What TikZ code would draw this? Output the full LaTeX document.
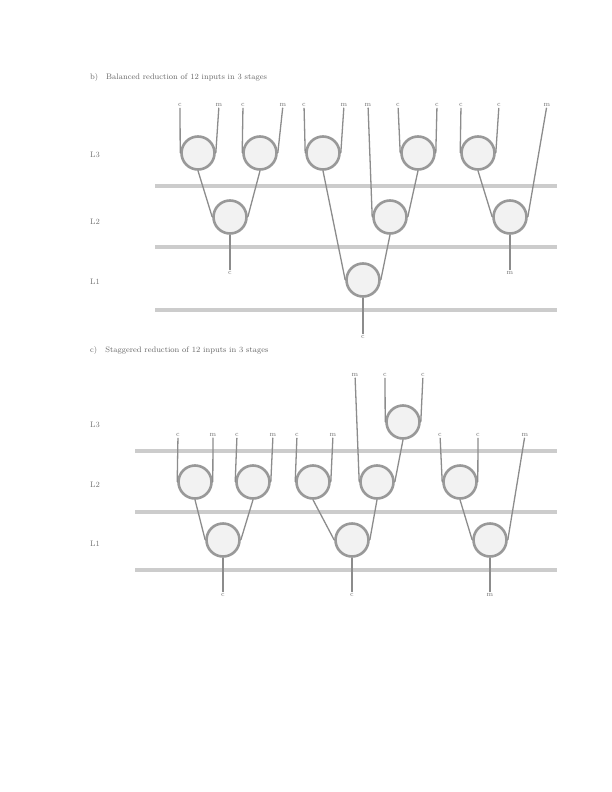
\documentclass[tikz,border=0pt]{standalone}
\usepackage{tikz}
\usetikzlibrary{shapes,positioning}
\tikzset{ell/.style={circle,draw=black!40,line width=2.6pt,fill=black!5,minimum size=33pt,inner sep=0pt}}
\tikzset{lab/.style={inner sep=1pt,text=black!55,font=\scriptsize}}
\tikzset{head/.style={inner sep=1pt,text=black!60,font=\footnotesize,anchor=west}}
\tikzset{wire/.style={draw=black!45,line width=1.3pt}}
\tikzset{lvl/.style={draw=black!20,line width=4pt}}

\begin{document}
\begin{tikzpicture}[x=1pt,y=-1pt]
    \useasboundingbox[fill=white] (0,0) rectangle (612,792);

    \node[head] (hb) at (89,77) {b)\quad Balanced reduction of 12 inputs in 3 stages};
    \node[head] (hc) at (89,350) {c)\quad Staggered reduction of 12 inputs in 3 stages};

    \node[lab,font=\footnotesize] (lb3) at (95,155) {L3};
    \node[lab,font=\footnotesize] (lb2) at (95,222) {L2};
    \node[lab,font=\footnotesize] (lb1) at (95,282) {L1};
    \draw [lvl] (155,186) -- (557,186);
    \draw [lvl] (155,247) -- (557,247);
    \draw [lvl] (155,310) -- (557,310);

    \node[lab] (ba) at (180,105) {c};
    \node[lab] (bb) at (219,105) {m};
    \node[lab] (bc) at (243,105) {c};
    \node[lab] (bd) at (283,105) {m};
    \node[lab] (be) at (304,105) {c};
    \node[lab] (bf) at (344,105) {m};
    \node[lab] (bg) at (368,105) {m};
    \node[lab] (bh) at (398,105) {c};
    \node[lab] (bi) at (437,105) {c};
    \node[lab] (bj) at (461,105) {c};
    \node[lab] (bk) at (499,105) {c};
    \node[lab] (bl) at (547,105) {m};

    \node[ell] (p1) at (198,153) {};
    \node[ell] (p2) at (260,153) {};
    \node[ell] (p3) at (323,153) {};
    \node[ell] (p4) at (418,153) {};
    \node[ell] (p5) at (478,153) {};
    \node[ell] (q1) at (230,217) {};
    \node[ell] (q2) at (390,217) {};
    \node[ell] (q3) at (510,217) {};
    \node[ell] (r1) at (363,280) {};

    \node[lab] (o1) at (230,273) {c};
    \node[lab] (o2) at (510,273) {m};
    \node[lab] (o3) at (363,337) {c};

    \draw [wire] (ba) to [] (p1.west);
    \draw [wire] (bb) to [] (p1.east);
    \draw [wire] (bc) to [] (p2.west);
    \draw [wire] (bd) to [] (p2.east);
    \draw [wire] (be) to [] (p3.west);
    \draw [wire] (bf) to [] (p3.east);
    \draw [wire] (bg) to [] (q2.west);
    \draw [wire] (bh) to [] (p4.west);
    \draw [wire] (bi) to [] (p4.east);
    \draw [wire] (bj) to [] (p5.west);
    \draw [wire] (bk) to [] (p5.east);
    \draw [wire] (bl) to [] (q3.east);
    \draw [wire] (p1.south) to [] (q1.west);
    \draw [wire] (p2.south) to [] (q1.east);
    \draw [wire] (p4.south) to [] (q2.east);
    \draw [wire] (p5.south) to [] (q3.west);
    \draw [wire] (p3.south) to [] (r1.west);
    \draw [wire] (q2.south) to [] (r1.east);
    \draw [wire] (q1.south) to [] (o1);
    \draw [wire] (q3.south) to [] (o2);
    \draw [wire] (r1.south) to [] (o3);

    \node[lab,font=\footnotesize] (lc3) at (95,425) {L3};
    \node[lab,font=\footnotesize] (lc2) at (95,485) {L2};
    \node[lab,font=\footnotesize] (lc1) at (95,544) {L1};
    \draw [lvl] (135,451) -- (557,451);
    \draw [lvl] (135,512) -- (557,512);
    \draw [lvl] (135,570) -- (557,570);

    \node[lab] (ca) at (355,375) {m};
    \node[lab] (cb) at (385,375) {c};
    \node[lab] (cc) at (423,375) {c};
    \node[lab] (cd) at (178,435) {c};
    \node[lab] (ce) at (213,435) {m};
    \node[lab] (cf) at (237,435) {c};
    \node[lab] (cg) at (273,435) {m};
    \node[lab] (ch) at (297,435) {c};
    \node[lab] (ci) at (333,435) {m};
    \node[lab] (cj) at (440,435) {c};
    \node[lab] (ck) at (478,435) {c};
    \node[lab] (cl) at (525,435) {m};

    \node[ell] (t1) at (403,422) {};
    \node[ell] (s1) at (195,482) {};
    \node[ell] (s2) at (253,482) {};
    \node[ell] (s3) at (313,482) {};
    \node[ell] (s4) at (377,482) {};
    \node[ell] (s5) at (460,482) {};
    \node[ell] (u1) at (223,540) {};
    \node[ell] (u2) at (352,540) {};
    \node[ell] (u3) at (490,540) {};

    \node[lab] (v1) at (223,595) {c};
    \node[lab] (v2) at (352,595) {c};
    \node[lab] (v3) at (490,595) {m};

    \draw [wire] (cb) to [] (t1.west);
    \draw [wire] (cc) to [] (t1.east);
    \draw [wire] (ca) to [] (s4.west);
    \draw [wire] (t1.south) to [] (s4.east);
    \draw [wire] (cd) to [] (s1.west);
    \draw [wire] (ce) to [] (s1.east);
    \draw [wire] (cf) to [] (s2.west);
    \draw [wire] (cg) to [] (s2.east);
    \draw [wire] (ch) to [] (s3.west);
    \draw [wire] (ci) to [] (s3.east);
    \draw [wire] (cj) to [] (s5.west);
    \draw [wire] (ck) to [] (s5.east);
    \draw [wire] (s1.south) to [] (u1.west);
    \draw [wire] (s2.south) to [] (u1.east);
    \draw [wire] (s3.south) to [] (u2.west);
    \draw [wire] (s4.south) to [] (u2.east);
    \draw [wire] (s5.south) to [] (u3.west);
    \draw [wire] (cl) to [] (u3.east);
    \draw [wire] (u1.south) to [] (v1);
    \draw [wire] (u2.south) to [] (v2);
    \draw [wire] (u3.south) to [] (v3);
\end{tikzpicture}
\end{document}
